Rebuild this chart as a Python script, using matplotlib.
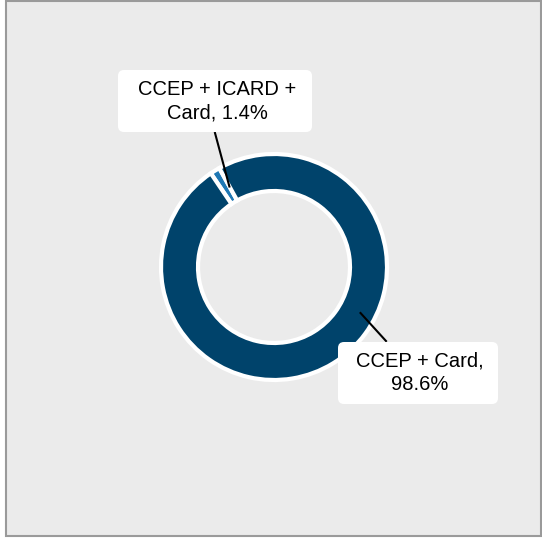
import numpy as np
import matplotlib.pyplot as plt
from matplotlib.patches import FancyBboxPatch, Rectangle

# data
labels = ['CCEP + ICARD +\nCard, 1.4%', 'CCEP + Card,\n98.6%']
values = [1.4, 98.6]
colors = ['#1f78b4', '#00436b']

plt.rcParams['font.family'] = ['Liberation Sans', 'DejaVu Sans']

fig = plt.figure(figsize=(5.42, 5.39), dpi=100)
fig.patch.set_facecolor('white')
ax = fig.add_axes([0, 0, 1, 1])

# panel
ax.add_patch(Rectangle((6, 3), 535, 535, facecolor='#ebebeb',
                       edgecolor='#9a9a9a', linewidth=1.5, zorder=0))

cx, cy, R, w = 274, 272, 113, 37
ax.pie(values, colors=colors, startangle=124, counterclock=False,
       center=(cx, cy), radius=R, frame=True,
       wedgeprops=dict(width=w, edgecolor='white', linewidth=3))
ax.set_xlim(0, 542)
ax.set_ylim(0, 539)
ax.set_aspect('equal')
ax.axis('off')

# label boxes: (box x0, y0), width, height, text center, line end (angle, radius), line start
boxes = [((118, 407), 194, 62, (217, 438), (119, 92), (215, 406)),
         ((338, 135), 160, 62, (420, 166), (-28, 98), (386, 198))]
for lab, (xy, bw, bh, tc, (ang, r), p0) in zip(labels, boxes):
    a = np.deg2rad(ang)
    p1 = (cx + r * np.cos(a), cy + r * np.sin(a))
    ax.plot([p0[0], p1[0]], [p0[1], p1[1]], color='black', lw=1.5, zorder=5)
    ax.add_patch(FancyBboxPatch(xy, bw, bh,
                                boxstyle='round,pad=0,rounding_size=6',
                                facecolor='white', edgecolor='none', zorder=6))
    ax.text(tc[0], tc[1], lab, ha='center', va='center', fontsize=14.5,
            linespacing=1.3, color='black', zorder=7)

fig.savefig('out.png', dpi=100, facecolor='white')
